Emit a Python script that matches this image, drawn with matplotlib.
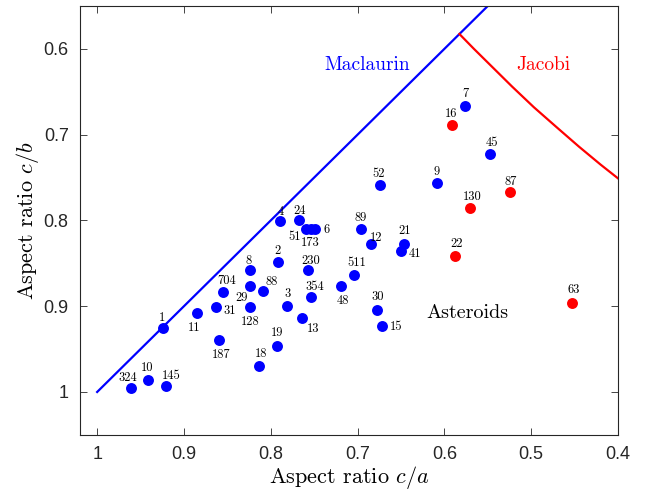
"""Asteroid shapes vs. Maclaurin / Jacobi equilibrium sequences."""

import matplotlib

matplotlib.use("Agg")
import matplotlib.pyplot as plt

plt.rcParams["mathtext.fontset"] = "cm"
plt.rcParams["axes.unicode_minus"] = False

BLUE = (0, 0, 1)
RED = (1, 0, 0)

# asteroids near Maclaurin-like shapes (blue)
blue_ids = ["1", "324", "10", "145", "11", "31", "704", "187", "8", "29", "128",
            "88", "2", "230", "354", "3", "13", "19", "18", "4", "24", "51",
            "173", "6", "52", "9", "89", "12", "21", "41", "511", "48", "30",
            "15", "7", "45"]
blue_ca = [0.924, 0.961, 0.942, 0.921, 0.885, 0.863, 0.855, 0.860, 0.824, 0.824, 0.824,
           0.809, 0.792, 0.757, 0.754, 0.781, 0.764, 0.793, 0.813, 0.789, 0.768, 0.760,
           0.754, 0.749, 0.674, 0.609, 0.696, 0.685, 0.647, 0.650, 0.704, 0.719, 0.678,
           0.672, 0.576, 0.547]
blue_cb = [0.925, 0.995, 0.986, 0.993, 0.908, 0.901, 0.884, 0.939, 0.858, 0.876, 0.901,
           0.882, 0.849, 0.858, 0.889, 0.900, 0.914, 0.946, 0.970, 0.801, 0.800, 0.810,
           0.810, 0.810, 0.759, 0.756, 0.810, 0.828, 0.827, 0.836, 0.864, 0.876, 0.905,
           0.923, 0.667, 0.723]

# asteroids near Jacobi-like shapes (red)
red_ids = ["16", "87", "130", "22", "63"]
red_ca = [0.591, 0.525, 0.570, 0.588, 0.453]
red_cb = [0.689, 0.767, 0.785, 0.842, 0.896]

# equilibrium sequences
maclaurin_ca = [1.0, 0.5]
maclaurin_cb = [1.0, 0.5]
jacobi_ca = [0.5827, 0.566, 0.545, 0.522, 0.497, 0.470, 0.445, 0.420, 0.400]
jacobi_cb = [0.5827, 0.600, 0.621, 0.644, 0.668, 0.692, 0.714, 0.735, 0.751]

x_ticks = [1, 0.9, 0.8, 0.7, 0.6, 0.5, 0.4]
y_ticks = [0.6, 0.7, 0.8, 0.9, 1]

# label offsets in points (dx, dy), dy positive = up
label_offset = {
    "1": (-1, 7), "324": (-2, 7), "10": (0, 9), "145": (4, 7), "11": (-2, -11),
    "31": (10, -3), "704": (3, 8), "187": (2, -11), "8": (-1, 7), "29": (-6, -9),
    "128": (0, -11), "88": (6, 6), "2": (0, 8), "230": (2, 7), "354": (3, 7),
    "3": (0, 9), "13": (8, -8), "19": (0, 9), "18": (1, 9), "4": (0, 7),
    "24": (1, 7), "51": (-8, -6), "173": (0, -10), "6": (8, -1), "52": (-1, 8),
    "9": (0, 8), "89": (0, 8), "12": (4, 5), "21": (1, 9), "41": (10, -2),
    "511": (2, 9), "48": (1, -11), "30": (1, 10), "15": (10, -1), "7": (0, 9),
    "45": (1, 8), "16": (-1, 8), "87": (1, 7), "130": (1, 8), "22": (1, 9),
    "63": (1, 9),
}


def main() -> None:
    fig = plt.figure(figsize=(6.54, 4.97), dpi=100)
    ax = fig.add_axes([0.122, 0.125, 0.823, 0.863])

    ax.plot(maclaurin_ca, maclaurin_cb, color=BLUE, linewidth=1.6, zorder=2)
    ax.plot(jacobi_ca, jacobi_cb, color=RED, linewidth=1.6, zorder=2)

    ax.scatter(blue_ca, blue_cb, s=62, color=BLUE, linewidths=0, zorder=3)
    ax.scatter(red_ca, red_cb, s=62, color=RED, linewidths=0, zorder=3)

    for ids, xs, ys in ((blue_ids, blue_ca, blue_cb), (red_ids, red_ca, red_cb)):
        for name, x, y in zip(ids, xs, ys):
            ax.annotate(name, (x, y), xytext=label_offset[name],
                        textcoords="offset points", ha="center", va="center",
                        fontsize=9, family="cmr10", zorder=4)

    ax.text(0.689, 0.619, "Maclaurin", color=BLUE, fontsize=14,
            family="cmr10", ha="center", va="center")
    ax.text(0.486, 0.619, "Jacobi", color=RED, fontsize=14,
            family="cmr10", ha="center", va="center")
    ax.text(0.573, 0.908, "Asteroids", color="black", fontsize=14.5,
            family="cmr10", ha="center", va="center")

    ax.set_xlim(1.02, 0.4)
    ax.set_ylim(1.05, 0.55)
    ax.set_xticks(x_ticks)
    ax.set_xticklabels([f"{t:g}" for t in x_ticks])
    ax.set_yticks(y_ticks)
    ax.set_yticklabels([f"{t:g}" for t in y_ticks])

    for spine in ax.spines.values():
        spine.set_color("0.15")
        spine.set_linewidth(0.8)
    ax.tick_params(direction="in", top=True, right=True, length=5, width=0.6,
                   color="0.15", labelsize=13, pad=8)
    for lbl in ax.get_xticklabels() + ax.get_yticklabels():
        lbl.set_family("Liberation Sans")
        lbl.set_color("0.15")

    ax.set_xlabel(r"Aspect ratio $c/a$", fontsize=16, family="cmr10", labelpad=1)
    ax.set_ylabel(r"Aspect ratio $c/b$", fontsize=16, family="cmr10", labelpad=2)

    fig.savefig("out.png", dpi=100)
    plt.close(fig)


if __name__ == "__main__":
    main()
